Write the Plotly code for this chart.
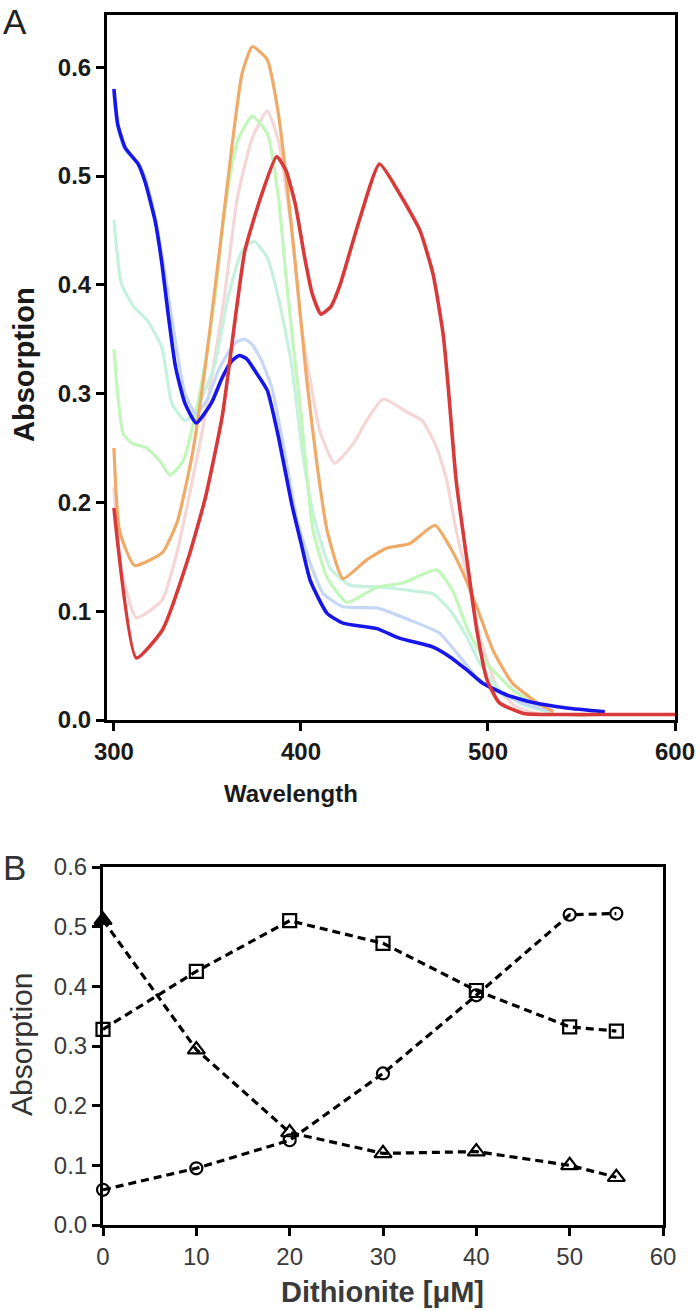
import plotly.graph_objects as go

# ---------------- Panel A: absorption spectra ----------------
wl_blue = [300, 302, 306, 313, 316.6, 322, 325.7, 329, 333, 338, 344, 352, 358, 363, 367, 371, 375.4,
           382, 388, 395, 400, 405, 414, 422.5, 440.6, 453, 470.6, 479.7, 488.7, 497, 510, 524, 542, 562.5]
abs_blue = [0.580, 0.548, 0.526, 0.511, 0.495, 0.459, 0.419, 0.373, 0.324, 0.291, 0.273, 0.291, 0.315,
            0.330, 0.335, 0.332, 0.321, 0.303, 0.260, 0.199, 0.163, 0.128, 0.098, 0.089, 0.084, 0.075,
            0.067, 0.058, 0.046, 0.034, 0.023, 0.016, 0.011, 0.0075]

wl_lightblue = [300, 302, 306, 313, 317, 322, 326, 330, 334, 338, 344, 350, 356, 362, 366, 370, 374, 379,
                384.5, 391.4, 398, 405, 412, 422.5, 440.6, 458, 474, 485, 494, 506, 521, 535]
abs_lightblue = [0.575, 0.545, 0.524, 0.512, 0.497, 0.462, 0.424, 0.380, 0.336, 0.300, 0.281, 0.295,
                 0.322, 0.340, 0.348, 0.350, 0.345, 0.330, 0.305, 0.245, 0.183, 0.144, 0.116, 0.104,
                 0.103, 0.092, 0.080, 0.058, 0.039, 0.025, 0.014, 0.008]

wl_mint = [300, 304, 311, 318, 325.7, 331, 338, 343, 348, 354, 361, 368.5, 375, 382, 388, 395, 400.5,
           406.5, 415.5, 426, 444, 458, 470.6, 479.7, 488.7, 495.7, 506, 519, 535]
abs_mint = [0.460, 0.401, 0.379, 0.367, 0.342, 0.291, 0.275, 0.282, 0.300, 0.327, 0.388, 0.431, 0.440,
            0.425, 0.388, 0.327, 0.250, 0.190, 0.140, 0.124, 0.122, 0.119, 0.116, 0.101, 0.076, 0.052,
            0.028, 0.014, 0.006]

wl_green = [300, 302, 305, 310, 317.6, 324.6, 330, 337, 342, 348, 354, 359, 366, 374, 382, 388, 391.4,
            395, 400, 406.5, 414, 424.6, 440.6, 454.5, 472.7, 481, 490, 499.5, 513, 524, 535]
abs_green = [0.341, 0.300, 0.263, 0.254, 0.250, 0.238, 0.225, 0.238, 0.269, 0.320, 0.388, 0.465, 0.532,
             0.555, 0.539, 0.480, 0.419, 0.358, 0.282, 0.174, 0.131, 0.108, 0.122, 0.126, 0.138, 0.119,
             0.080, 0.052, 0.028, 0.016, 0.006]

wl_pink = [300, 304, 312, 325.7, 334, 343, 350, 359, 366, 374, 382, 388, 395, 400.5, 405, 410, 418, 428,
           435, 444, 456.7, 465, 472.7, 478, 483, 489, 495, 505, 515, 528]
abs_pink = [0.214, 0.138, 0.094, 0.110, 0.156, 0.229, 0.291, 0.388, 0.480, 0.535, 0.560, 0.532, 0.450,
            0.358, 0.312, 0.266, 0.236, 0.254, 0.275, 0.295, 0.283, 0.275, 0.250, 0.220, 0.174, 0.131,
            0.080, 0.030, 0.012, 0.005]

wl_orange = [300, 303, 311, 326, 334, 342, 349, 355.6, 363, 368.5, 374, 382, 387.7, 392.5, 397, 400.5,
             403, 408.5, 414, 422.5, 435, 446, 458, 471.7, 479.7, 486.7, 494, 502.7, 513, 528, 535]
abs_orange = [0.250, 0.174, 0.142, 0.154, 0.183, 0.245, 0.327, 0.419, 0.526, 0.594, 0.619, 0.607, 0.560,
              0.493, 0.419, 0.358, 0.314, 0.236, 0.174, 0.130, 0.147, 0.158, 0.162, 0.179, 0.159, 0.135,
              0.104, 0.064, 0.034, 0.014, 0.008]

wl_red = [300, 312, 326, 340, 349, 358, 370, 379, 387, 392, 397, 402, 406, 410.7, 416, 420.9, 431.5, 442,
          453, 463.6, 470.6, 476, 478.6, 483, 489, 494, 499.5, 506, 519, 540, 560, 580, 600]
abs_red = [0.195, 0.057, 0.083, 0.150, 0.205, 0.280, 0.431, 0.483, 0.518, 0.505, 0.474, 0.425, 0.392,
           0.373, 0.380, 0.400, 0.461, 0.511, 0.483, 0.450, 0.410, 0.355, 0.309, 0.220, 0.144, 0.083,
           0.037, 0.016, 0.006, 0.005, 0.005, 0.005, 0.005]

# ---------------- Panel B: titration ----------------
dithionite = [0, 10, 20, 30, 40, 50, 55]
abs_square = [0.328, 0.425, 0.510, 0.472, 0.393, 0.332, 0.325]
abs_triangle = [0.511, 0.294, 0.155, 0.120, 0.123, 0.100, 0.080]
abs_circle = [0.059, 0.095, 0.142, 0.254, 0.385, 0.520, 0.522]

xticks_a = [300, 400, 500, 600]
yticks_a = [0.0, 0.1, 0.2, 0.3, 0.4, 0.5, 0.6]
xticks_b = [0, 10, 20, 30, 40, 50, 60]
yticks_b = [0.0, 0.1, 0.2, 0.3, 0.4, 0.5, 0.6]

W, H = 700, 1311

fig = go.Figure()

spectra = [
    (wl_pink, abs_pink, "#f5d6d6", 3.2),
    (wl_mint, abs_mint, "#c6f1de", 3.2),
    (wl_green, abs_green, "#c2f7ba", 3.2),
    (wl_lightblue, abs_lightblue, "#c6d7f5", 3.2),
    (wl_orange, abs_orange, "#f0aa68", 3.2),
    (wl_blue, abs_blue, "#1616ea", 3.6),
    (wl_red, abs_red, "#d83a3a", 3.6),
]
for xs, ys, col, w in spectra:
    fig.add_trace(go.Scatter(x=xs, y=ys, mode="lines", xaxis="x", yaxis="y",
                             line=dict(color=col, width=w, shape="spline", smoothing=0.5),
                             showlegend=False, hoverinfo="skip"))

dash = "8px,5px"
sym_sq = ["square-open"] * len(dithionite)
sym_tr = ["triangle-up"] + ["triangle-up-open"] * (len(dithionite) - 1)
sym_ci = ["circle-open"] * len(dithionite)
for ys, syms, sz in [(abs_square, sym_sq, 13), (abs_triangle, sym_tr, 15), (abs_circle, sym_ci, 12)]:
    fig.add_trace(go.Scatter(x=dithionite, y=ys, mode="lines+markers", xaxis="x2", yaxis="y2",
                             line=dict(color="black", width=3.2, dash=dash),
                             marker=dict(symbol=syms, size=sz, color="black",
                                         line=dict(color="black", width=2.2)),
                             cliponaxis=False, showlegend=False, hoverinfo="skip"))

axis_common = dict(showline=True, linecolor="black", linewidth=3, mirror=True, ticks="outside",
                   ticklen=8, tickwidth=3, tickcolor="black", showgrid=False, zeroline=False)

fontA = dict(family="Arial, Liberation Sans, sans-serif", size=24, color="#1a1a1a", weight="bold")
fontB = dict(family="Arial, Liberation Sans, sans-serif", size=24, color="#3a3a3a")

fig.update_layout(
    width=W, height=H,
    margin=dict(l=0, r=0, t=0, b=0, autoexpand=False),
    paper_bgcolor="white", plot_bgcolor="white",
    xaxis=dict(domain=[107 / W, 675 / W], anchor="y", range=[296.3, 600], tickvals=xticks_a,
               tickfont=fontA, **axis_common),
    yaxis=dict(domain=[1 - 720 / H, 1 - 15 / H], anchor="x", range=[0, 0.648], tickvals=yticks_a,
               tickformat=".1f", tickfont=fontA, **axis_common),
    xaxis2=dict(domain=[103 / W, 663 / W], anchor="y2", range=[0, 60], tickvals=xticks_b,
                tickfont=fontB, **axis_common),
    yaxis2=dict(domain=[1 - 1225 / H, 1 - 867 / H], anchor="x2", range=[0, 0.6], tickvals=yticks_b,
                tickformat=".1f", tickfont=fontB, **axis_common),
)

def ann(text, xpx, ypx, size, angle=0, bold=False, color="#1a1a1a", xanchor="center", yanchor="middle"):
    fig.add_annotation(text=text, xref="paper", yref="paper", x=xpx / W, y=1 - ypx / H,
                       xanchor=xanchor, yanchor=yanchor, textangle=angle, showarrow=False,
                       font=dict(family="Arial, Liberation Sans, sans-serif", size=size, color=color,
                                 weight="bold" if bold else "normal"))

ann("A", 1, 0, 35, color="#222222", xanchor="left", yanchor="top")
ann("Absorption", 24, 365, 29, angle=-90, bold=True)
ann("Wavelength", 291, 793, 24, bold=True)
ann("B", 1, 846, 35, color="#333333", xanchor="left", yanchor="top")
ann("Absorption", 21, 1045, 30, angle=-90, color="#333333")
ann("Dithionite [μM]", 382, 1292, 29, bold=True, color="#3a3a3a")

fig.write_html("out.html", config={"displayModeBar": False, "staticPlot": True},
               post_script="document.body.style.margin='0px';document.documentElement.style.overflow='hidden';document.body.style.overflow='hidden';")
